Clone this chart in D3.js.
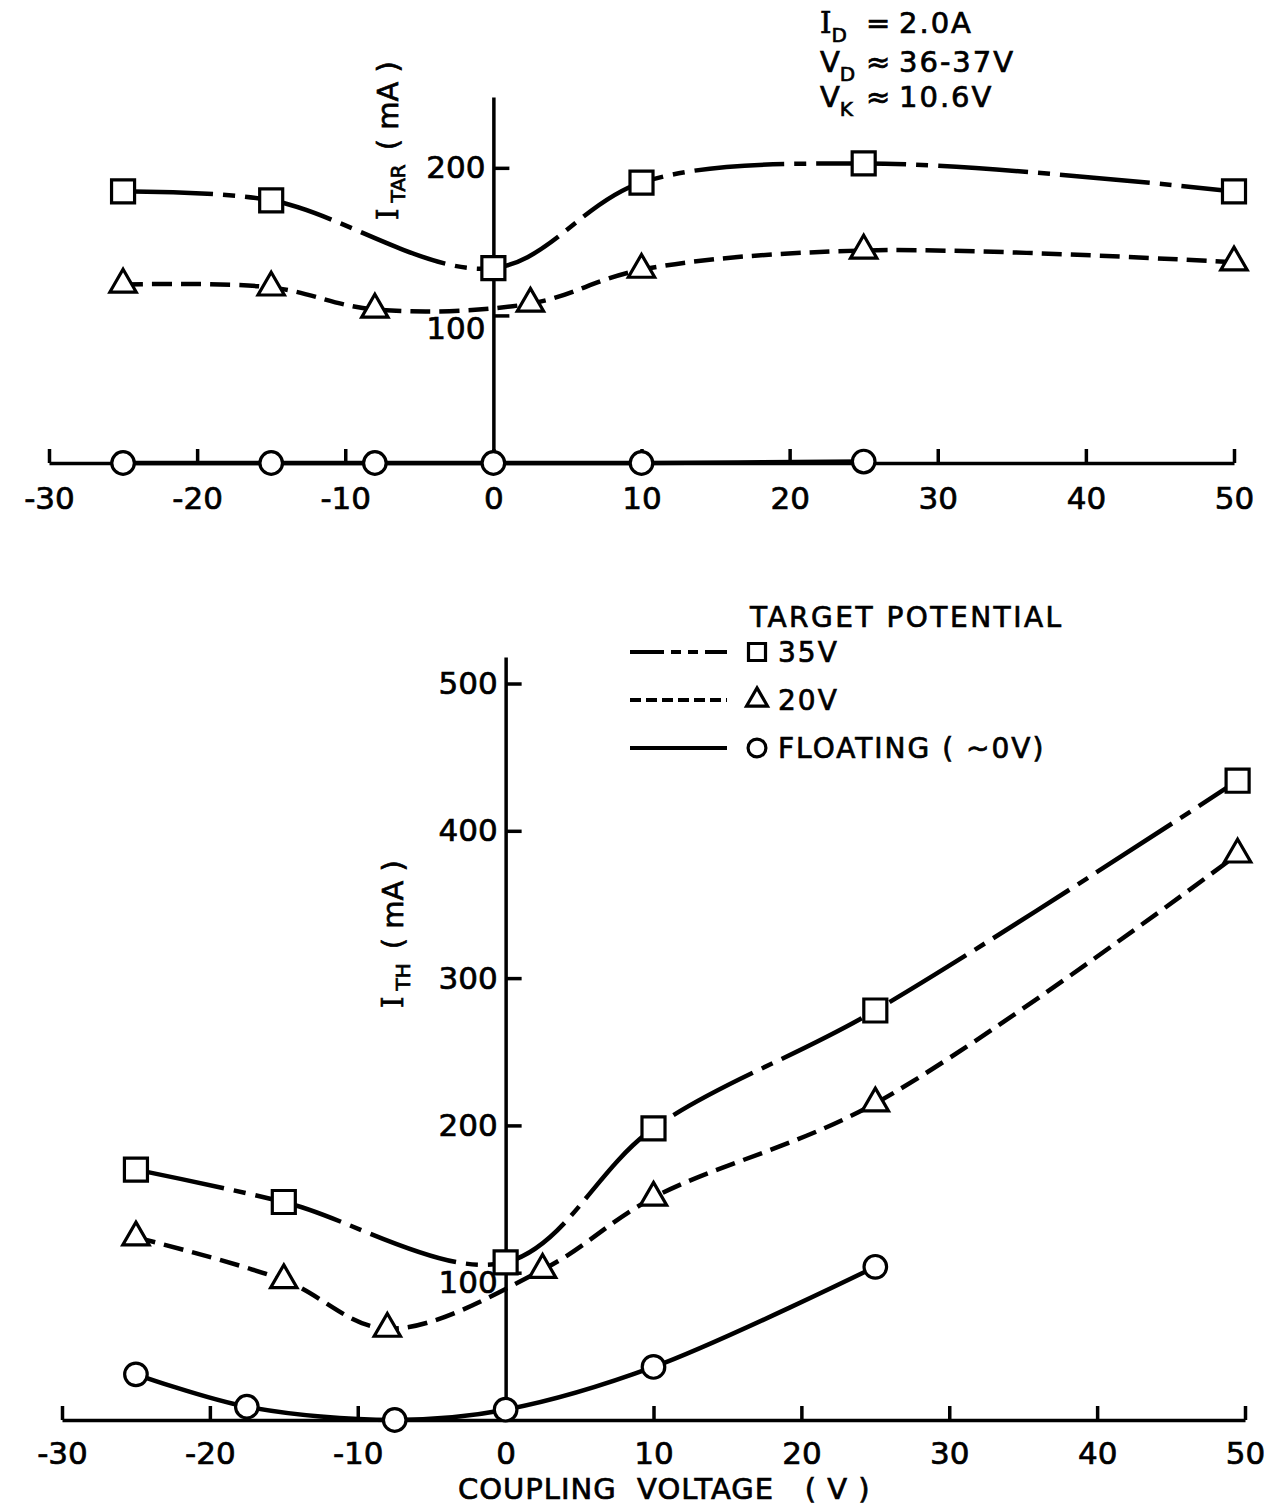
<!DOCTYPE html>
<html>
<head>
<meta charset="UTF-8">
<title>I_TAR and I_TH vs coupling voltage</title>
<style>
body { margin: 0; background: #fff; }
svg { display: block; background: #fff; font-family: "DejaVu Sans", sans-serif; }
.axis path, .axis line { stroke: #000; stroke-width: 3.5px; }
.axis text { font-family: "DejaVu Sans", sans-serif; font-size: 31px; fill: #000; stroke: #000; stroke-width: 0.7px; }
.curve { fill: none; stroke: #000; stroke-width: 4.5px; }
.mark { fill: #fff; stroke: #000; stroke-width: 3.2px; }
.lbl { font-size: 29px; fill: #000; stroke: #000; stroke-width: 0.7px; }
.serif { font-family: "DejaVu Serif", serif; }
</style>
<script src="https://cdn.jsdelivr.net/npm/d3@7"></script>
</head>
<body>
<script>
// top panel, target current I_TAR (mA)
var tarV35 = [-25, -15, 0, 10, 25, 50];
var tarI35 = [184, 178, 132, 190, 203, 184];
var tarV20 = [-25, -15, -8, 2.5, 10, 25, 50];
var tarI20 = [121, 119, 104, 108, 131, 144, 136];
var tarVfl = [-25, -15, -8, 0, 10, 25];
var tarIfl = [0, 0, 0, 0, 0, 1];

// bottom panel, I_TH (mA)
var thV35 = [-25, -15, 0, 10, 25, 49.5];
var thI35 = [170, 148, 107, 198, 278, 434];
var thV20 = [-25, -15, -8, 2.5, 10, 25, 49.5];
var thI20 = [124, 95, 62, 102, 151, 215, 384];
var thVfl = [-25, -17.5, -7.5, 0, 10, 25];
var thIfl = [31, 9, 0, 7, 36, 104];

var xTicks = [-30, -20, -10, 0, 10, 20, 30, 40, 50];
var topYTicks = [100, 200];
var botYTicks = [100, 200, 300, 400, 500];

var legendTitle = "TARGET POTENTIAL";
var legendNames = ["35V", "20V", "FLOATING ( ~0V)"];

var annoMain = ["I", "V", "V"];
var annoSub = ["D", "D", "K"];
var annoOp = ["=", "\u2248", "\u2248"];
var annoVal = ["2.0A", "36-37V", "10.6V"];

var W = 1279, H = 1507;
var svg = d3.select("body").append("svg").attr("width", W).attr("height", H);

var xT = d3.scaleLinear().domain([-30, 50]).range([49, 1234]);
var yT = d3.scaleLinear().domain([0, 248]).range([463, 97]);
var xB = d3.scaleLinear().domain([-30, 50]).range([62, 1245]);
var yB = d3.scaleLinear().domain([0, 518]).range([1420, 657]);

var dashes = ["90,10,12,10", "20,9", null];
var shapes = [d3.symbolSquare, d3.symbolTriangle, d3.symbolCircle];
var sizes = [530, 300, 400];

function zip(a, b) { return a.map(function(v, i) { return [v, b[i]]; }); }

function drawPanel(x, y, yTicks, sets, xPad, shift100) {
  svg.append("g").attr("class", "axis")
    .attr("transform", "translate(0," + y(0) + ")")
    .call(d3.axisBottom(x).tickValues(xTicks).tickSize(-14).tickSizeOuter(0)
      .tickPadding(xPad).tickFormat(function(d) { return String(d); }));

  var gy = svg.append("g").attr("class", "axis")
    .attr("transform", "translate(" + x(0) + ",0)")
    .call(d3.axisLeft(y).tickValues(yTicks).tickSize(-16).tickSizeOuter(0).tickPadding(8));
  gy.selectAll(".tick text").filter(function(d) { return d === 100; })
    .attr("dy", "0.32em").attr("y", shift100);

  var line = d3.line()
    .x(function(d) { return x(d[0]); })
    .y(function(d) { return y(d[1]); })
    .curve(d3.curveCatmullRom.alpha(0.5));

  sets.forEach(function(pts, i) {
    svg.append("path").attr("class", "curve")
      .attr("d", line(pts))
      .attr("stroke-dasharray", dashes[i]);
  });
  sets.forEach(function(pts, i) {
    svg.append("g").selectAll("path").data(pts).enter().append("path")
      .attr("class", "mark")
      .attr("transform", function(d) { return "translate(" + x(d[0]) + "," + y(d[1]) + ")"; })
      .attr("d", d3.symbol().type(shapes[i]).size(sizes[i]));
  });
}

drawPanel(xT, yT, topYTicks,
  [zip(tarV35, tarI35), zip(tarV20, tarI20), zip(tarVfl, tarIfl)], 24, 13);
drawPanel(xB, yB, botYTicks,
  [zip(thV35, thI35), zip(thV20, thI20), zip(thVfl, thIfl)], 22, 10);

// rotated y labels
function yLabel(px, py, sub) {
  var t = svg.append("text").attr("class", "lbl")
    .attr("transform", "translate(" + px + "," + py + ") rotate(-90)");
  t.append("tspan").attr("class", "serif").text("I");
  t.append("tspan").attr("dx", 6).attr("dy", 7).style("font-size", "20px").text(sub);
  t.append("tspan").attr("dx", 14).attr("dy", -7).text("( mA )");
}
yLabel(398, 220, "TAR");
yLabel(403, 1008, "TH");

// x title
svg.append("text").attr("class", "lbl")
  .attr("x", 458).attr("y", 1499)
  .style("letter-spacing", "1px")
  .attr("xml:space", "preserve")
  .text("COUPLING  VOLTAGE   ( V )");

// conditions, top right
annoMain.forEach(function(m, i) {
  var by = [33, 72, 107][i];
  var t = svg.append("text").attr("class", "lbl").attr("x", 820).attr("y", by);
  t.append("tspan").attr("class", m === "I" ? "serif" : null).text(m);
  t.append("tspan").attr("dy", 9).style("font-size", "20px").text(annoSub[i]);
  t.append("tspan").attr("x", 866).attr("dy", -9).text(annoOp[i]);
  t.append("tspan").attr("x", 899).style("letter-spacing", "2px").text(annoVal[i]);
});

// legend
var legDash = ["34,7,10,7,10,7", "11,5", null];
var legSize = [289, 190, 250];
svg.append("text").attr("class", "lbl").attr("x", 750).attr("y", 627)
  .style("font-size", "28px").style("letter-spacing", "2.5px").text(legendTitle);
legendNames.forEach(function(name, i) {
  var cy = 652 + i * 48;
  svg.append("line").attr("x1", 630).attr("x2", 727).attr("y1", cy).attr("y2", cy)
    .attr("stroke", "#000").attr("stroke-width", 4).attr("stroke-dasharray", legDash[i]);
  svg.append("path").attr("class", "mark").attr("stroke-width", 2.5)
    .attr("transform", "translate(757," + cy + ")")
    .attr("d", d3.symbol().type(shapes[i]).size(legSize[i]));
  svg.append("text").attr("class", "lbl").attr("x", 778).attr("y", cy + 10)
    .style("font-size", "28px").style("letter-spacing", "2px")
    .attr("xml:space", "preserve").text(name);
});
</script>
</body>
</html>
